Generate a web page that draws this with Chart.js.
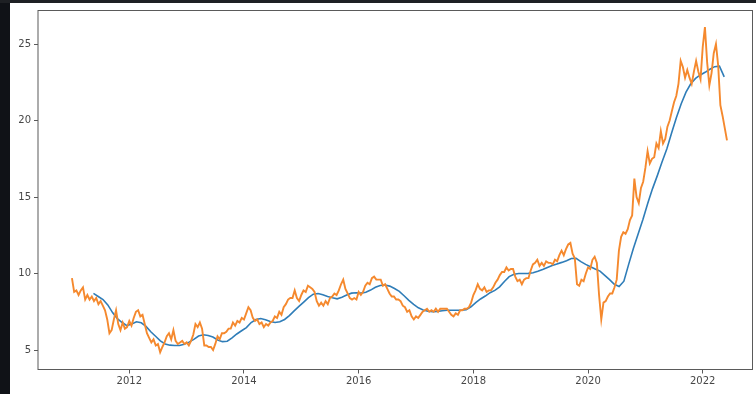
<!DOCTYPE html>
<html lang="en">
<head>
  <meta charset="UTF-8">
  <title>Price vs moving average</title>
  <script src="https://cdn.jsdelivr.net/npm/chart.js"></script>
  <style>
    html, body { margin: 0; padding: 0; background: #fff; }
    body { width: 756px; height: 394px; position: relative; overflow: hidden; }
    #priceChart { position: absolute; left: 0; top: 0; }
    .edge-left { position: absolute; left: 0; top: 0; width: 10px; height: 394px; background: #101217; }
    .edge-top { position: absolute; left: 0; top: 0; width: 756px; height: 3px; background: #1e2024; }
  </style>
</head>
<body>
<canvas id="priceChart" width="756" height="394"></canvas>
<div class="edge-left"></div>
<div class="edge-top"></div>

<script>
  // closing price, sampled every two weeks from the start of 2011
  const priceStart = 2011.0;
  const priceStep = 1 / 26;
  const priceValues = [
    9.7, 8.8, 8.9, 8.6, 8.9, 9.1, 8.3, 8.6, 8.3, 8.5,
    8.2, 8.4, 8.0, 8.2, 7.9, 7.6, 7.0, 6.1, 6.3, 7.0,
    7.6, 6.7, 6.3, 6.8, 6.4, 6.5, 6.9, 6.6, 7.1, 7.5,
    7.6, 7.2, 7.3, 6.7, 6.1, 5.8, 5.5, 5.7, 5.3, 5.4,
    4.85, 5.2, 5.5, 5.9, 6.1, 5.7, 6.3, 5.6, 5.4, 5.5,
    5.6, 5.4, 5.5, 5.3, 5.6, 6.0, 6.7, 6.5, 6.8, 6.4,
    5.3, 5.3, 5.2, 5.2, 5.0, 5.4, 5.9, 5.7, 6.1, 6.1,
    6.2, 6.4, 6.4, 6.8, 6.6, 6.9, 6.8, 7.1, 7.0, 7.4,
    7.8, 7.6, 7.1, 6.9, 7.0, 6.7, 6.8, 6.5, 6.7, 6.6,
    6.8, 6.9, 7.2, 7.1, 7.5, 7.3, 7.8, 8.0, 8.3, 8.4,
    8.4, 8.9, 8.4, 8.2, 8.6, 8.9, 8.8, 9.2, 9.1, 9.0,
    8.8, 8.2, 7.9, 8.1, 7.9, 8.2, 8.0, 8.4, 8.5, 8.7,
    8.6, 8.9, 9.3, 9.6, 9.0, 8.7, 8.4, 8.3, 8.4, 8.3,
    8.8, 8.6, 8.8, 9.2, 9.4, 9.3, 9.7, 9.8, 9.6, 9.6,
    9.6, 9.2, 9.3, 9.0, 8.7, 8.5, 8.5, 8.3, 8.3, 8.2,
    7.9, 7.8, 7.5, 7.6, 7.2, 7.0, 7.2, 7.1, 7.3, 7.5,
    7.6, 7.7, 7.5, 7.6, 7.5, 7.7, 7.5, 7.7, 7.7, 7.7,
    7.7, 7.5, 7.3, 7.2, 7.4, 7.3, 7.6, 7.6, 7.7, 7.7,
    7.8, 8.1, 8.6, 8.9, 9.3, 9.0, 8.9, 9.1, 8.8, 8.9,
    8.9, 9.1, 9.4, 9.6, 9.9, 10.1, 10.1, 10.4, 10.2, 10.3,
    10.3, 9.8, 9.5, 9.6, 9.3, 9.6, 9.7, 9.7, 10.2, 10.6,
    10.7, 10.9, 10.5, 10.7, 10.5, 10.8, 10.7, 10.7, 10.6, 10.9,
    10.8, 11.2, 11.5, 11.2, 11.6, 11.9, 12.0, 11.3, 11.0, 9.3,
    9.2, 9.6, 9.5, 10.0, 10.4, 10.3, 10.9, 11.1, 10.7, 8.6,
    7.0, 8.1, 8.2, 8.5, 8.7, 8.7, 9.1, 9.6, 11.5, 12.4,
    12.7, 12.6, 12.9, 13.5, 13.8, 16.2, 15.0, 14.6, 15.6, 16.0,
    16.9, 18.0, 17.2, 17.5, 17.6, 18.5, 18.2, 19.3, 18.5, 18.8,
    19.6, 20.0, 20.6, 21.2, 21.6, 22.4, 23.9, 23.5, 22.8, 23.3,
    22.8, 22.4, 23.2, 23.9, 23.2, 22.7, 24.8, 26.1, 23.8, 22.3,
    23.1, 24.4, 25.0, 23.6, 21.0, 20.3, 19.5, 18.7
  ];

  // rolling average, one value per month
  const avgStart = 2011.375;
  const avgStep = 1 / 12;
  const avgValues = [
    8.7, 8.5, 8.3, 7.95, 7.45, 7.05, 6.8, 6.6, 6.7, 6.85,
    6.78, 6.55, 6.2, 5.9, 5.6, 5.4, 5.32, 5.3, 5.3, 5.38,
    5.52, 5.7, 5.92, 6.0, 5.95, 5.85, 5.66, 5.55, 5.58, 5.8,
    6.05, 6.26, 6.47, 6.8, 7.0, 7.06, 6.98, 6.87, 6.8, 6.85,
    7.0, 7.25, 7.56, 7.85, 8.13, 8.42, 8.65, 8.7, 8.62, 8.5,
    8.42, 8.35, 8.45, 8.6, 8.72, 8.75, 8.72, 8.78, 8.92, 9.1,
    9.22, 9.25, 9.18, 9.02, 8.84, 8.55, 8.25, 7.98, 7.76, 7.62,
    7.54, 7.5, 7.53, 7.57, 7.6, 7.6, 7.6, 7.6, 7.64, 7.83,
    8.1, 8.34, 8.53, 8.75, 8.9, 9.13, 9.48, 9.8, 9.96, 10.0,
    10.0, 10.01, 10.05, 10.15, 10.27, 10.4, 10.52, 10.63, 10.73, 10.84,
    10.98, 11.0, 10.78, 10.6, 10.45, 10.3, 10.16, 9.88, 9.6, 9.3,
    9.15, 9.5, 10.6, 11.65, 12.6, 13.55, 14.6, 15.55, 16.4, 17.3,
    18.15, 19.2, 20.2, 21.1, 21.85, 22.4, 22.75, 22.98, 23.15, 23.35,
    23.52, 23.55, 22.85
  ];

  const yearTicks = [2012, 2014, 2016, 2018, 2020, 2022];
  const valueTicks = [5, 10, 15, 20, 25];

  const pricePoints = priceValues.map((v, i) => ({ x: priceStart + i * priceStep, y: v }));
  const avgPoints = avgValues.map((v, i) => ({ x: avgStart + i * avgStep, y: v }));

  // box around the plot area, like the spines of the original figure
  const frame = {
    id: 'frame',
    afterDatasetsDraw(chart) {
      const a = chart.chartArea;
      const ctx = chart.ctx;
      ctx.save();
      ctx.strokeStyle = '#5a5a5a';
      ctx.lineWidth = 1;
      ctx.strokeRect(a.left, a.top, a.right - a.left, a.bottom - a.top);
      ctx.restore();
    }
  };

  const tickFont = { family: 'DejaVu Sans', size: 10 };

  new Chart(document.getElementById('priceChart').getContext('2d'), {
    type: 'line',
    data: {
      datasets: [
        {
          label: 'Close',
          data: pricePoints,
          borderColor: '#f5892e',
          borderWidth: 1.9,
          pointRadius: 0,
          tension: 0,
          order: 0
        },
        {
          label: 'Moving average',
          data: avgPoints,
          borderColor: '#2f7db8',
          borderWidth: 1.6,
          pointRadius: 0,
          tension: 0,
          order: 1
        }
      ]
    },
    options: {
      responsive: false,
      animation: false,
      devicePixelRatio: 1,
      layout: { padding: { left: 10, top: 10.5, right: 3.5, bottom: 0 } },
      plugins: {
        legend: { display: false },
        tooltip: { enabled: false }
      },
      scales: {
        x: {
          type: 'linear',
          min: 2010.408,
          max: 2022.868,
          afterBuildTicks: s => { s.ticks = yearTicks.map(v => ({ value: v })); },
          afterFit: s => { s.height = 24.5; },
          ticks: {
            callback: v => String(v),
            font: tickFont,
            color: '#474747',
            padding: 2,
            maxRotation: 0,
            autoSkip: false
          },
          grid: { display: true, drawOnChartArea: false, tickLength: 4, color: '#5a5a5a' },
          border: { display: false }
        },
        y: {
          min: 3.73,
          max: 27.19,
          afterBuildTicks: s => { s.ticks = valueTicks.map(v => ({ value: v })); },
          afterFit: s => { s.width = 28; },
          ticks: {
            callback: v => String(v),
            font: tickFont,
            color: '#474747',
            padding: 3,
            autoSkip: false
          },
          grid: { display: true, drawOnChartArea: false, tickLength: 4, color: '#5a5a5a' },
          border: { display: false }
        }
      }
    },
    plugins: [frame]
  });
</script>
</body>
</html>
